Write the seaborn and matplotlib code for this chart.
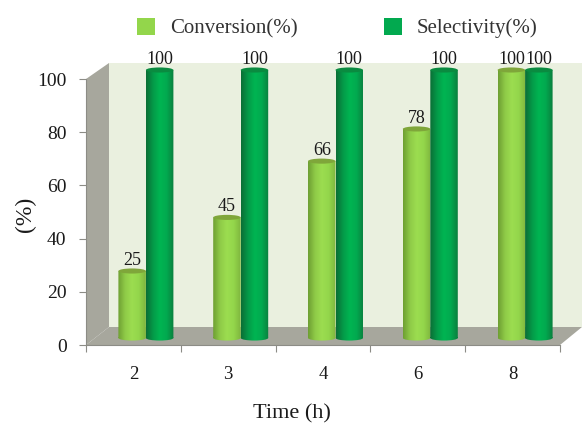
import numpy as np
import pandas as pd
import seaborn as sns
import matplotlib
matplotlib.use("Agg")
import matplotlib.pyplot as plt
from matplotlib.colors import LinearSegmentedColormap
from matplotlib.path import Path
from matplotlib.patches import Polygon, Ellipse, Patch
from matplotlib.transforms import Affine2D

times = ["2", "3", "4", "6", "8"]
conversion = [25, 45, 66, 78, 100]
selectivity = [100, 100, 100, 100, 100]
series_names = ["Conversion(%)", "Selectivity(%)"]
y_ticks = [0, 20, 40, 60, 80, 100]

df = pd.DataFrame({
    "Time": times * 2,
    "value": conversion + selectivity,
    "series": [series_names[0]] * len(times) + [series_names[1]] * len(times),
})

sns.set_theme(style="white")
plt.rcParams["font.family"] = ["Liberation Serif", "DejaVu Serif"]

W, H = 582, 423
fig = plt.figure(figsize=(W / 100, H / 100), dpi=100, facecolor="white")

def rect(x0, y_bottom, w, h):
    return [x0 / W, 1 - y_bottom / H, w / W, h / H]

# Front plane axes (scale, ticks, walls)
ax = fig.add_axes(rect(86, 345, 474, 266))
ax.set_xlim(-0.5, len(times) - 0.5)
ax.set_ylim(0, 100)
ax.patch.set_visible(False)

dx, dy = 23 / 474, 18 / 266
top = (345 - 63) / 266
right = (582 - 86) / 474
wall = "#A7A79D"
ta = ax.transAxes
ax.add_patch(Polygon([(dx, dy), (right, dy), (right, top), (dx, top)], transform=ta,
                     fc="#EAF0DF", ec="none", clip_on=False, zorder=-3))
ax.add_patch(Polygon([(0, 0), (dx, dy), (dx, top), (0, 1)], transform=ta,
                     fc=wall, ec="none", clip_on=False, zorder=-2))
ax.add_patch(Polygon([(0, 0), (dx, dy), (right, dy), (1, 0)], transform=ta,
                     fc=wall, ec="none", clip_on=False, zorder=-2))

for s in ("top", "right"):
    ax.spines[s].set_visible(False)
for s in ("left", "bottom"):
    ax.spines[s].set_color("#8C8C86")
    ax.spines[s].set_linewidth(0.8)

ax.set_yticks(y_ticks)
ax.set_xticks(range(len(times)))
ax.set_xticklabels(times)
ax.set_xticks(np.arange(len(times) + 1) - 0.5, minor=True)
ax.tick_params(axis="y", which="major", left=True, length=5, width=0.8, color="#8C8C86",
               labelsize=14, pad=9, labelcolor="#1a1a1a")
ax.tick_params(axis="x", which="major", bottom=False, length=0, labelsize=13.5, pad=15,
               labelcolor="#1a1a1a")
ax.tick_params(axis="x", which="minor", bottom=True, length=5, width=0.8, color="#8C8C86")
ax.set_xlabel("Time (h)", fontsize=16, color="#1a1a1a", labelpad=15.5, x=0.435)
ax.set_ylabel("(%)", fontsize=17, color="#1a1a1a", labelpad=1, y=0.49)

# Bars axes, shifted into the depth of the box
axb = fig.add_axes(rect(98.5, 338, 474, 268))
axb.patch.set_visible(False)
palette = ["#93D64B", "#02A94F"]
sns.barplot(data=df, x="Time", y="value", hue="series", order=times, hue_order=series_names,
            palette=palette, saturation=1, width=0.58, gap=0, dodge=True, legend=False, ax=axb)
axb.set_xlim(-0.5, len(times) - 0.5)
axb.set_ylim(0, 100)
axb.axis("off")

cmaps = [
    LinearSegmentedColormap.from_list("c", ["#6E9F32", "#8FCB48", "#9CDD50", "#93D64B", "#7FB63E"]),
    LinearSegmentedColormap.from_list("s", ["#0B6E36", "#049A48", "#00B552", "#02A94F", "#0A7F3E"]),
]
cap_colors = ["#7FA63A", "#0A8B40"]
cap_h = 1.9
grad = np.linspace(0, 1, 64).reshape(1, -1)
for cont, cmap, cc in zip(axb.containers, cmaps, cap_colors):
    for bar in cont:
        x, w, h = bar.get_x(), bar.get_width(), bar.get_height()
        bar.set_visible(False)
        body = Path.make_compound_path(
            Path.unit_rectangle().transformed(Affine2D().scale(w, h).translate(x, 0)),
            Path.unit_circle().transformed(Affine2D().scale(w / 2, cap_h / 2).translate(x + w / 2, 0)),
        )
        im = axb.imshow(grad, cmap=cmap, extent=(x, x + w, -cap_h, h), aspect="auto",
                        zorder=2, interpolation="bilinear")
        im.set_clip_box(fig.bbox)
        im.set_clip_path(body, transform=axb.transData)
        axb.add_patch(Ellipse((x + w / 2, h), w, cap_h, fc=cc, ec="none", zorder=3, clip_on=False))
    axb.bar_label(cont, padding=1.5, fontsize=13, color="#1a1a1a", zorder=5)
axb.set_xlim(-0.5, len(times) - 0.5)
axb.set_ylim(0, 100)

handles = [Patch(fc=palette[0], ec="none"), Patch(fc=palette[1], ec="none")]
fig.legend(handles, series_names, loc="center left", bbox_to_anchor=(122 / W, 1 - 28 / H),
           ncol=2, frameon=False, fontsize=15, handlelength=0.9, handleheight=0.9,
           handletextpad=0.7, columnspacing=4.13, labelcolor="#333333", borderpad=0.2)

fig.savefig("out.png", dpi=100)
